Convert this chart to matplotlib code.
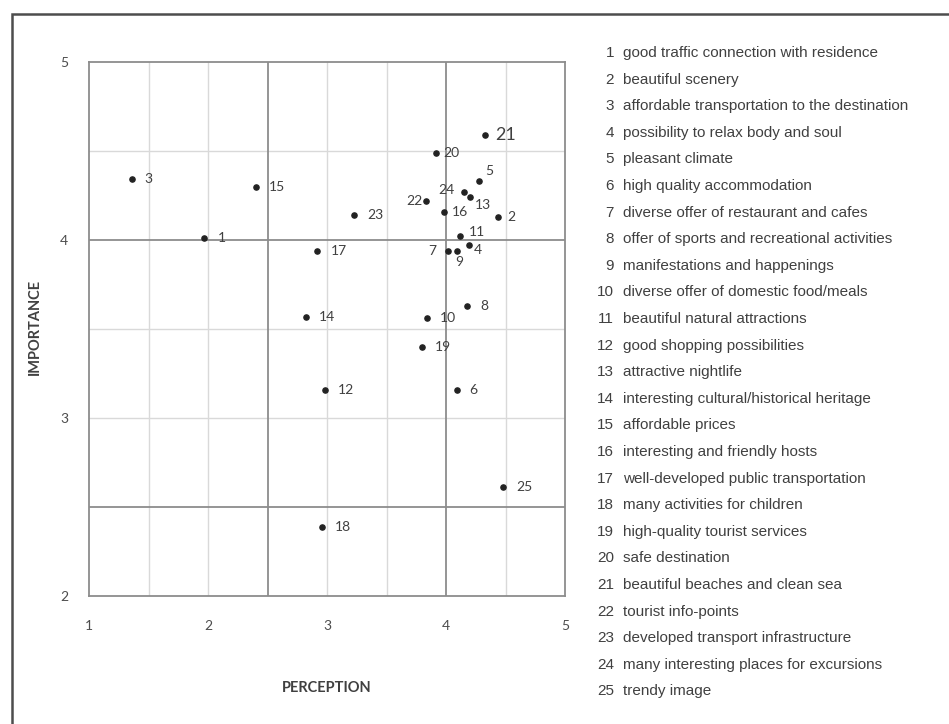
import matplotlib.pyplot as plt
from matplotlib.patches import Rectangle

# perception (x) / importance (y) per attribute
ids = list(range(1, 26))
perception = [1.97, 4.44, 1.36, 4.19, 4.28, 4.09, 4.02, 4.18, 4.09, 3.84,
              4.12, 2.98, 4.20, 2.82, 2.40, 3.98, 2.92, 2.96, 3.80, 3.92,
              4.33, 3.83, 3.23, 4.15, 4.48]
importance = [4.01, 4.13, 4.34, 3.97, 4.33, 3.16, 3.94, 3.63, 3.94, 3.56,
              4.02, 3.16, 4.24, 3.57, 4.30, 4.16, 3.94, 2.39, 3.40, 4.49,
              4.59, 4.22, 4.14, 4.27, 2.61]
attributes = [
    "good traffic connection with residence",
    "beautiful scenery",
    "affordable transportation to the destination",
    "possibility to relax body and soul",
    "pleasant climate",
    "high quality accommodation",
    "diverse offer of restaurant and cafes",
    "offer of sports and recreational activities",
    "manifestations and happenings",
    "diverse offer of domestic food/meals",
    "beautiful natural attractions",
    "good shopping possibilities",
    "attractive nightlife",
    "interesting cultural/historical heritage",
    "affordable prices",
    "interesting and friendly hosts",
    "well-developed public transportation",
    "many activities for children",
    "high-quality tourist services",
    "safe destination",
    "beautiful beaches and clean sea",
    "tourist info-points",
    "developed transport infrastructure",
    "many interesting places for excursions",
    "trendy image",
]

# label offsets in pixels (dx, dy, ha), default is right of the dot
label_pos = {
    4: (5, -5, 'left'), 5: (6, 10, 'left'), 7: (-12, 0, 'right'),
    9: (-1, -11, 'left'), 11: (9, 4, 'left'), 13: (5, -8, 'left'),
    20: (7, 0, 'left'), 21: (10, 0, 'left'), 22: (-3, 0, 'right'),
    24: (-9, 2, 'right'), 2: (9, 0, 'left'), 16: (8, 0, 'left'),
}

fig = plt.figure(figsize=(9.49, 7.24), dpi=100)
fig.patches.append(Rectangle((12 / 949, -0.05), 1.1, 1 - 14 / 724 + 0.05,
                             transform=fig.transFigure, fill=False,
                             edgecolor='#4d4d4d', lw=1.8))

ax = fig.add_axes([89 / 949, 1 - 596 / 724, 476 / 949, 534 / 724])
ax.set_xlim(1, 5)
ax.set_ylim(2, 5)

# light grid every 0.5, darker quadrant lines at 2.5 and 4
for v in [1.5, 2, 3, 3.5, 4.5]:
    ax.axvline(v, color='#d9d9d9', lw=1, zorder=0)
for v in [3.0, 3.5, 4.5]:
    ax.axhline(v, color='#d9d9d9', lw=1, zorder=0)
for v in [2.5, 4.0]:
    ax.axvline(v, color='#8c8c8c', lw=1.3, zorder=1)
    ax.axhline(v, color='#8c8c8c', lw=1.3, zorder=1)

for s in ax.spines.values():
    s.set_color('#8c8c8c')
    s.set_linewidth(1.3)

ax.set_xticks([1, 2, 3, 4, 5])
ax.set_yticks([2, 3, 4, 5])
ax.tick_params(length=0, labelsize=10, labelcolor='#4d4d4d')
ax.tick_params(axis='x', pad=17)
ax.tick_params(axis='y', pad=15)
for t in ax.get_xticklabels() + ax.get_yticklabels():
    t.set_family('Lato')

ax.scatter(perception, importance, s=14, color='#222222', zorder=3)

for i, x, y in zip(ids, perception, importance):
    dx, dy, ha = label_pos.get(i, (13, 0, 'left'))
    ax.annotate(str(i), (x, y), xytext=(dx, dy), textcoords='offset pixels',
                ha=ha, va='center', fontsize=13 if i == 21 else 10,
                color='#404040', family='Lato')

fig.text(327 / 949, 1 - 688 / 724, 'PERCEPTION', ha='center', va='center',
         fontsize=10.5, fontweight='bold', color='#404040', family='Lato')
fig.text(35 / 949, 1 - 327 / 724, 'IMPORTANCE', ha='center', va='center',
         rotation=90, fontsize=10.5, fontweight='bold', color='#404040',
         family='Lato')

for k, (i, name) in enumerate(zip(ids, attributes)):
    yy = 1 - (53 + k * 26.6) / 724
    fig.text(614 / 949, yy, str(i), ha='right', va='center', fontsize=11,
             color='#404040', family='Liberation Sans')
    fig.text(623 / 949, yy, name, ha='left', va='center', fontsize=11,
             color='#404040', family='Liberation Sans')

fig.savefig('out.png', dpi=100)
